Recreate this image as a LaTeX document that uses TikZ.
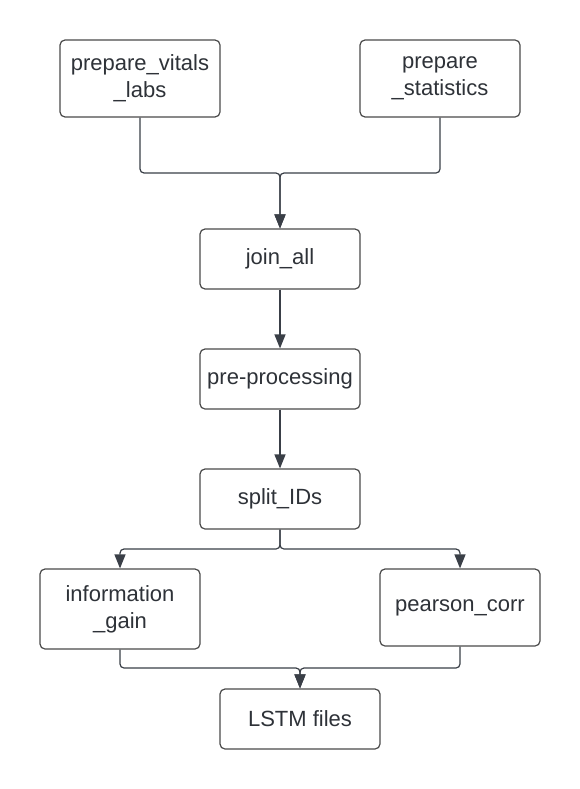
\documentclass[tikz,border=0pt]{standalone}
\usepackage{fontspec}
\setmainfont{Liberation Sans}
\usetikzlibrary{arrows.meta}
\definecolor{lineC}{HTML}{3A3F47}
\definecolor{boxC}{HTML}{4A4A4A}
\definecolor{textC}{HTML}{2E3238}
\tikzset{
  box/.style={draw=boxC, line width=1.2pt, rounded corners=5pt, minimum width=160pt,
    inner sep=0pt, align=center, text=textC, font=\fontsize{22}{27}\selectfont},
  conn/.style={draw=lineC, line width=1.2pt, rounded corners=4pt},
  arr/.style={conn, -{Triangle[width=11pt,length=14pt]}}
}
\begin{document}
\begin{tikzpicture}[x=1pt,y=-1pt]
\fill[white] (0,0) rectangle (580,789);
\useasboundingbox (0,0) rectangle (580,789);
\node[box, minimum height=77pt] (pvl) at (140,78.5) {prepare\_vitals\\\_labs};
\node[box, minimum height=77pt] (ps) at (440,78.5) {prepare\\\_statistics};
\node[box, minimum height=60pt] (ja) at (280,259) {join\_all};
\node[box, minimum height=60pt] (pp) at (280,379) {pre-processing};
\node[box, minimum height=60pt] (sid) at (280,499) {split\_IDs};
\node[box, minimum height=80pt] (ig) at (120,609) {information\\\_gain};
\node[box, minimum height=77pt] (pc) at (460,607.5) {pearson\_corr};
\node[box, minimum height=60pt] (lstm) at (300,719) {LSTM files};
\coordinate (j1) at (280,173);
\coordinate (j2) at (280,549);
\coordinate (j3) at (300,668);
\draw[arr] (pvl.south) |- (j1) -- (ja.north);
\draw[arr] (ps.south) |- (j1) -- (ja.north);
\draw[arr] (ja.south) -- (pp.north);
\draw[arr] (pp.south) -- (sid.north);
\draw[arr] (sid.south) |- (j2) -| (ig.north);
\draw[arr] (sid.south) |- (j2) -| (pc.north);
\draw[arr] (ig.south) |- (j3) -- (lstm.north);
\draw[arr] (pc.south) |- (j3) -- (lstm.north);
\end{tikzpicture}
\end{document}
